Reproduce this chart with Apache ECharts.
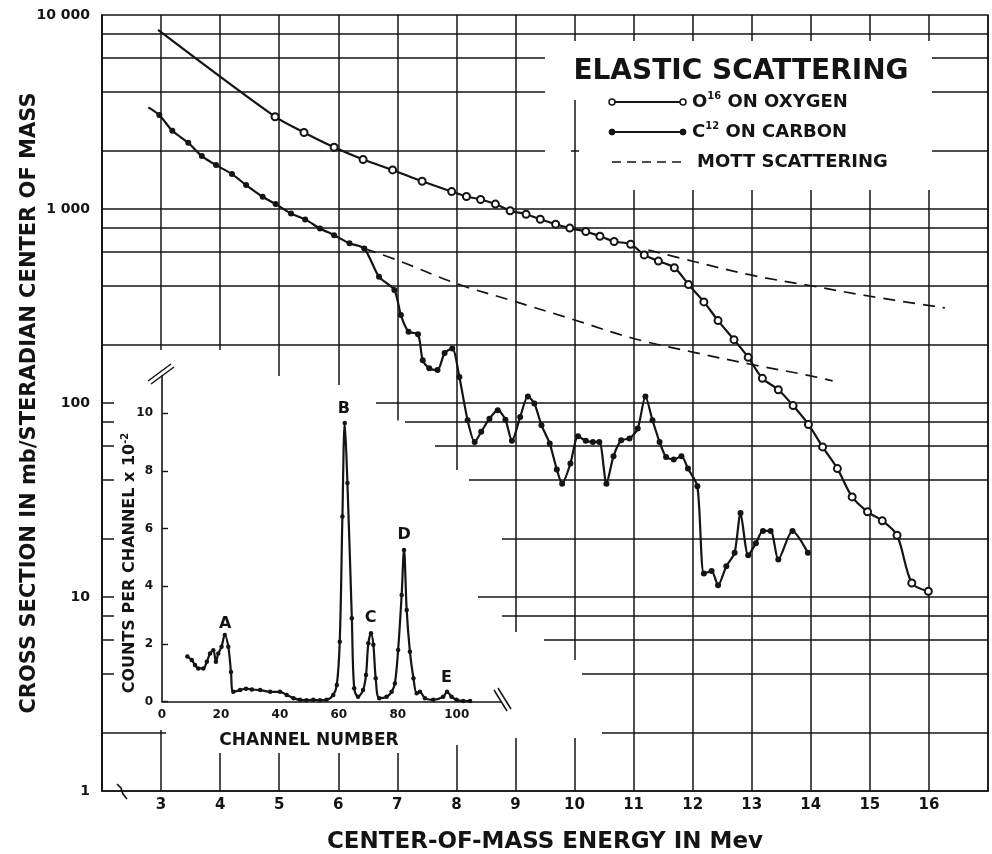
<!DOCTYPE html>
<html>
<head>
<meta charset="utf-8">
<script src="https://cdn.jsdelivr.net/npm/echarts@6/dist/echarts.min.js"></script>
<style>
html,body{margin:0;padding:0;background:#fff;}
#chart{width:992px;height:854px;}
</style>
</head>
<body>
<div id="chart"></div>
<script>
// ---------------- data ----------------
// Main plot: centre-of-mass energy (MeV) vs cross section (mb/sr)
const O16_ENERGY = [2.95, 4.93, 5.42, 5.93, 6.42, 6.92, 7.42, 7.92, 8.17, 8.41, 8.66, 8.91, 9.18, 9.42, 9.68, 9.92, 10.19, 10.43, 10.67, 10.95, 11.18, 11.42, 11.69, 11.93, 12.19, 12.43, 12.70, 12.94, 13.18, 13.45, 13.70, 13.96, 14.20, 14.45, 14.70, 14.96, 15.21, 15.46, 15.71, 15.99];
const O16_SIGMA  = [8380, 2990, 2480, 2080, 1800, 1590, 1390, 1230, 1160, 1120, 1060, 980, 940, 885, 835, 797, 765, 724, 680, 658, 580, 539, 498, 408, 332, 266, 212, 172, 134, 117, 97, 77.5, 59.4, 45.9, 32.8, 27.5, 24.7, 20.8, 11.8, 10.7];

const C12_ENERGY = [2.785, 2.97, 3.19, 3.46, 3.69, 3.93, 4.20, 4.44, 4.72, 4.94, 5.20, 5.44, 5.69, 5.93, 6.19, 6.44, 6.69, 6.95, 7.06, 7.19, 7.35, 7.43, 7.54, 7.68, 7.80, 7.93, 8.05, 8.19, 8.31, 8.42, 8.56, 8.70, 8.83, 8.94, 9.08, 9.21, 9.32, 9.44, 9.58, 9.70, 9.79, 9.93, 10.06, 10.19, 10.31, 10.42, 10.54, 10.66, 10.79, 10.93, 11.07, 11.20, 11.32, 11.44, 11.55, 11.68, 11.81, 11.92, 12.08, 12.19, 12.32, 12.43, 12.57, 12.71, 12.81, 12.94, 13.07, 13.19, 13.32, 13.45, 13.69, 13.95];
const C12_SIGMA  = [3340, 3050, 2530, 2195, 1874, 1684, 1513, 1328, 1156, 1060, 948, 884, 794, 733, 665, 626, 447, 382, 284, 233, 226, 166, 151, 148, 181, 191, 136, 81.5, 63, 71, 83, 91.8, 82, 63.8, 84.8, 108, 99.4, 76.9, 61.8, 45.4, 38.4, 48.7, 67.4, 63.8, 63, 63, 38.4, 53.2, 64.3, 65.6, 73.8, 108, 81.5, 63, 52.7, 51.1, 53.2, 45.9, 37.2, 13.2, 13.6, 11.5, 14.4, 16.9, 27.1, 16.4, 18.9, 21.9, 21.9, 15.6, 21.9, 16.9];

const MOTT_C_ENERGY = [6.44, 7.0, 8.0, 9.0, 10.0, 11.0, 12.0, 13.0, 14.0, 14.37];
const MOTT_C_SIGMA  = [626, 545, 413, 333, 268, 215, 183, 158, 138, 130];
const MOTT_O_ENERGY = [11.25, 12.0, 13.0, 14.0, 15.0, 16.27];
const MOTT_O_SIGMA  = [615, 538, 456, 402, 355, 309];

// Inset: pulse-height spectrum
const CHANNEL = [8.6, 10.1, 11.2, 12.3, 14.0, 15.2, 16.3, 17.4, 18.3, 19.1, 20.2, 21.3, 22.5, 23.4, 24.2, 26.5, 28.5, 30.5, 33.3, 36.7, 40.0, 42.3, 44.6, 46.8, 49.0, 51.3, 53.6, 55.8, 58.1, 59.3, 60.3, 61.2, 62.0, 62.9, 64.4, 65.2, 66.5, 68.2, 69.2, 70.0, 70.9, 71.7, 72.5, 73.7, 76.2, 77.9, 79.0, 80.1, 81.3, 82.1, 83.0, 84.1, 85.3, 86.4, 87.5, 89.2, 92.0, 95.4, 96.7, 98.2, 99.9, 102.2, 104.5];
const COUNTS  = [1.56, 1.44, 1.27, 1.15, 1.15, 1.38, 1.67, 1.78, 1.38, 1.67, 1.90, 2.31, 1.90, 1.03, 0.34, 0.40, 0.45, 0.42, 0.40, 0.34, 0.34, 0.23, 0.12, 0.06, 0.05, 0.06, 0.05, 0.06, 0.23, 0.58, 2.08, 6.42, 9.66, 7.58, 2.89, 0.46, 0.17, 0.40, 0.92, 2.02, 2.37, 1.97, 0.81, 0.12, 0.17, 0.34, 0.63, 1.79, 3.70, 5.26, 3.18, 1.73, 0.81, 0.29, 0.34, 0.12, 0.06, 0.17, 0.34, 0.17, 0.06, 0.02, 0.02];
const PEAK_NAMES  = ['A', 'B', 'C', 'D', 'E'];
const PEAK_CH     = [21.4, 61.7, 70.8, 82.1, 96.5];
const PEAK_COUNTS = [2.68, 10.17, 2.91, 5.78, 0.81];

// Axis ticks / graph-paper rulings
const X_TICKS = [3, 4, 5, 6, 7, 8, 9, 10, 11, 12, 13, 14, 15, 16];
const Y_TICKS = [1, 10, 100, 1000, 10000];
const Y_TICK_TEXT = ['1', '10', '100', '1 000', '10 000'];
const Y_RULINGS = [2, 4, 6, 8, 10, 20, 40, 60, 80, 100, 200, 400, 600, 800, 1000, 2000, 4000, 6000, 8000];
const INSET_X_TICKS = [0, 20, 40, 60, 80, 100];
const INSET_Y_TICKS = [0, 2, 4, 6, 8, 10];

// ---------------- styling / layout ----------------
const INK = '#141414';
const FF = '"DejaVu Sans", "Liberation Sans", sans-serif';
// white patches where the graph paper was erased (pixel layout)
const INSET_MASK = [[114,350],[226,350],[226,376],[290,376],[290,385],[376,385],[376,406],[396,406],[396,420.5],[405,420.5],[405,425],[435,425],[435,470],[469,470],[469,483],[502,483],[502,593],[478,593],[478,601],[502,601],[502,632],[544,632],[544,660],[582,660],[582,700],[602,700],[602,738],[510,738],[510,745],[450,745],[450,753],[166,753],[166,730],[114,730]];

function pairs(xs, ys, noMarkFirst) {
  return xs.map((x, i) => (noMarkFirst && i === 0) ? { value: [x, ys[i]], symbol: 'none' } : [x, ys[i]]);
}
const boldText = (size) => ({ fontFamily: FF, fontSize: size, fontWeight: 'bold', fill: INK });

const chart = echarts.init(document.getElementById('chart'), null, { renderer: 'canvas' });

const option = {
  backgroundColor: '#ffffff',
  animation: false,
  title: {
    text: 'ELASTIC SCATTERING',
    left: 736, top: 53, textAlign: 'center',
    textStyle: { fontFamily: FF, fontSize: 28, fontWeight: 'bold', color: INK }
  },
  grid: [
    { left: 102, top: 15, width: 886, height: 776, show: true, borderColor: INK, borderWidth: 1.5, backgroundColor: 'rgba(0,0,0,0)', outerBoundsMode: 'none' },
    { left: 162, top: 375.8, width: 339, height: 325.8, outerBoundsMode: 'none' }
  ],
  xAxis: [
    {
      type: 'value', gridIndex: 0, min: 2, max: 17, interval: 1,
      axisLine: { show: true, onZero: false, lineStyle: { color: INK, width: 1.5 } },
      axisTick: { show: false },
      splitLine: { show: true, lineStyle: { color: INK, width: 1.5 } },
      axisLabel: {
        formatter: v => X_TICKS.includes(Math.round(v)) && Math.abs(v - Math.round(v)) < 1e-6 ? String(Math.round(v)) : '',
        color: INK, fontFamily: FF, fontSize: 15, fontWeight: 'bold', margin: 7
      },
      name: 'CENTER-OF-MASS ENERGY IN Mev', nameLocation: 'middle', nameGap: 40, nameMoveOverlap: false,
      nameTextStyle: { color: INK, fontFamily: FF, fontSize: 23, fontWeight: 'bold' }
    },
    {
      type: 'value', gridIndex: 1, min: 0, max: 115, interval: 20, z: 6,
      axisLine: { show: true, onZero: false, lineStyle: { color: INK, width: 1.6 } },
      axisTick: { show: false },
      splitLine: { show: false },
      axisLabel: {
        formatter: v => INSET_X_TICKS.includes(v) ? String(v) : '',
        showMaxLabel: false, color: INK, fontFamily: FF, fontSize: 12, fontWeight: 'bold', margin: 7
      }
    }
  ],
  yAxis: [
    {
      type: 'log', logBase: 10, gridIndex: 0, min: 1, max: 10000,
      axisLine: { show: true, onZero: false, lineStyle: { color: INK, width: 1.5 } },
      axisTick: { show: false },
      splitLine: { show: false },
      minorTick: { show: false }, minorSplitLine: { show: false },
      axisLabel: {
        formatter: v => { const i = Y_TICKS.findIndex(t => Math.abs(t - v) < 1e-6 * t); return i >= 0 ? Y_TICK_TEXT[i] : ''; },
        color: INK, fontFamily: FF, fontSize: 14, fontWeight: 'bold', margin: 12
      },
      name: 'CROSS SECTION IN mb/STERADIAN CENTER OF MASS', nameLocation: 'middle', nameGap: 62, nameMoveOverlap: false,
      nameTextStyle: { color: INK, fontFamily: FF, fontSize: 21, fontWeight: 'bold' }
    },
    {
      type: 'value', gridIndex: 1, min: 0, max: 11.3, interval: 2, z: 6,
      axisLine: { show: true, onZero: false, lineStyle: { color: INK, width: 1.6 } },
      axisTick: { show: true, inside: true, length: 6, lineStyle: { color: INK, width: 1.4 } },
      splitLine: { show: false },
      axisLabel: {
        formatter: v => INSET_Y_TICKS.includes(v) ? String(v) : '',
        showMaxLabel: false, color: INK, fontFamily: FF, fontSize: 12, fontWeight: 'bold', margin: 9
      }
    }
  ],
  series: [
    {
      name: 'rulings', type: 'line', xAxisIndex: 0, yAxisIndex: 0, data: [], silent: true, z: 1,
      markLine: {
        silent: true, z: 1, animation: false, symbol: ['none', 'none'],
        label: { show: false }, emphasis: { disabled: true },
        lineStyle: { color: INK, width: 1.5, type: 'solid' },
        data: Y_RULINGS.map(v => ({ yAxis: v }))
      }
    },
    {
      name: 'O16 on oxygen', type: 'line', xAxisIndex: 0, yAxisIndex: 0, z: 5,
      data: pairs(O16_ENERGY, O16_SIGMA, true),
      smooth: 0.3, symbol: 'emptyCircle', symbolSize: 7, showAllSymbol: true,
      lineStyle: { color: INK, width: 2.2 },
      itemStyle: { color: INK, borderColor: INK, borderWidth: 1.4 }
    },
    {
      name: 'C12 on carbon', type: 'line', xAxisIndex: 0, yAxisIndex: 0, z: 5,
      data: pairs(C12_ENERGY, C12_SIGMA, true),
      smooth: 0.25, symbol: 'circle', symbolSize: 6, showAllSymbol: true,
      lineStyle: { color: INK, width: 2.2 },
      itemStyle: { color: INK }
    },
    {
      name: 'Mott scattering (C)', type: 'line', xAxisIndex: 0, yAxisIndex: 0, z: 5,
      data: pairs(MOTT_C_ENERGY, MOTT_C_SIGMA), smooth: 0.4, symbol: 'none',
      lineStyle: { color: INK, width: 1.7, type: [12, 8] }
    },
    {
      name: 'Mott scattering (O)', type: 'line', xAxisIndex: 0, yAxisIndex: 0, z: 5,
      data: pairs(MOTT_O_ENERGY, MOTT_O_SIGMA), smooth: 0.4, symbol: 'none',
      lineStyle: { color: INK, width: 1.7, type: [12, 8] }
    },
    {
      name: 'Spectrum', type: 'line', xAxisIndex: 1, yAxisIndex: 1, z: 6,
      data: pairs(CHANNEL, COUNTS), smooth: 0.35, symbol: 'circle', symbolSize: 4.5, showAllSymbol: true,
      lineStyle: { color: INK, width: 2.2 }, itemStyle: { color: INK }
    },
    {
      name: 'Peaks', type: 'scatter', xAxisIndex: 1, yAxisIndex: 1, z: 7, silent: true,
      data: PEAK_NAMES.map((n, i) => ({ name: n, value: [PEAK_CH[i], PEAK_COUNTS[i]] })),
      symbolSize: 0, itemStyle: { color: '#ffffff', opacity: 1 },
      label: { show: true, position: 'inside', formatter: '{b}', color: INK, opacity: 1, textBorderWidth: 0, textBorderColor: 'transparent', fontFamily: FF, fontSize: 16, fontWeight: 'bold' }
    }
  ],
  graphic: {
    elements: [
      // erased graph-paper regions
      { type: 'polygon', z: 3, silent: true, shape: { points: INSET_MASK }, style: { fill: '#ffffff' } },
      { type: 'rect', z: 3, silent: true, shape: { x: 545, y: 41, width: 387, height: 59 }, style: { fill: '#ffffff' } },
      { type: 'rect', z: 3, silent: true, shape: { x: 545, y: 140, width: 26, height: 22 }, style: { fill: '#ffffff' } },
      { type: 'rect', z: 3, silent: true, shape: { x: 579, y: 99, width: 353, height: 91 }, style: { fill: '#ffffff' } },
      // axis break marks
      { type: 'polyline', z: 8, silent: true, shape: { points: [[117,784],[121,788],[123,794],[127,799]] }, style: { stroke: INK, lineWidth: 1.6, fill: null } },
      { type: 'line', z: 8, silent: true, shape: { x1: 148, y1: 381, x2: 171, y2: 364 }, style: { stroke: INK, lineWidth: 1.5 } },
      { type: 'line', z: 8, silent: true, shape: { x1: 151, y1: 384, x2: 174, y2: 367 }, style: { stroke: INK, lineWidth: 1.5 } },
      { type: 'line', z: 8, silent: true, shape: { x1: 494, y1: 690, x2: 507, y2: 711 }, style: { stroke: INK, lineWidth: 1.5 } },
      { type: 'line', z: 8, silent: true, shape: { x1: 498, y1: 688, x2: 511, y2: 709 }, style: { stroke: INK, lineWidth: 1.5 } },
      // legend
      { type: 'line', z: 10, silent: true, shape: { x1: 612, y1: 102, x2: 683, y2: 102 }, style: { stroke: INK, lineWidth: 2 } },
      { type: 'circle', z: 11, silent: true, shape: { cx: 612, cy: 102, r: 3 }, style: { fill: '#fff', stroke: INK, lineWidth: 1.5 } },
      { type: 'circle', z: 11, silent: true, shape: { cx: 683, cy: 102, r: 3 }, style: { fill: '#fff', stroke: INK, lineWidth: 1.5 } },
      { type: 'text', z: 10, silent: true, x: 692, y: 102, style: { text: '{b|O}{s|16}{b| ON OXYGEN}', rich: { b: Object.assign(boldText(18), { lineHeight: 22 }), s: Object.assign(boldText(10), { verticalAlign: 'top', lineHeight: 22 }) }, verticalAlign: 'middle', align: 'left' } },
      { type: 'line', z: 10, silent: true, shape: { x1: 612, y1: 132, x2: 683, y2: 132 }, style: { stroke: INK, lineWidth: 2 } },
      { type: 'circle', z: 11, silent: true, shape: { cx: 612, cy: 132, r: 3 }, style: { fill: INK, stroke: INK, lineWidth: 1 } },
      { type: 'circle', z: 11, silent: true, shape: { cx: 683, cy: 132, r: 3 }, style: { fill: INK, stroke: INK, lineWidth: 1 } },
      { type: 'text', z: 10, silent: true, x: 692, y: 132, style: { text: '{b|C}{s|12}{b| ON CARBON}', rich: { b: Object.assign(boldText(18), { lineHeight: 22 }), s: Object.assign(boldText(10), { verticalAlign: 'top', lineHeight: 22 }) }, verticalAlign: 'middle', align: 'left' } },
      { type: 'line', z: 10, silent: true, shape: { x1: 612, y1: 162, x2: 683, y2: 162 }, style: { stroke: INK, lineWidth: 1.7, lineDash: [9, 6] } },
      { type: 'text', z: 10, silent: true, x: 697, y: 162, style: Object.assign(boldText(18), { text: 'MOTT SCATTERING', verticalAlign: 'middle', align: 'left' }) },
      // inset axis titles
      { type: 'text', z: 10, silent: true, x: 130, y: 563, rotation: Math.PI / 2, style: { text: '{a|COUNTS PER CHANNEL x 10}{s|-2}', rich: { a: Object.assign(boldText(16), { lineHeight: 20 }), s: Object.assign(boldText(10), { verticalAlign: 'top', lineHeight: 20 }) }, align: 'center', verticalAlign: 'middle' } },
      { type: 'text', z: 10, silent: true, x: 309, y: 741, style: Object.assign(boldText(17), { text: 'CHANNEL NUMBER', align: 'center', verticalAlign: 'middle' }) }
    ]
  }
};
chart.setOption(option);
</script>
</body>
</html>
